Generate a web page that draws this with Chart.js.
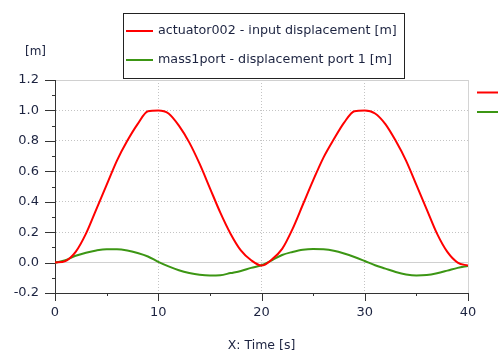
<!DOCTYPE html>
<html>
<head>
<meta charset="utf-8">
<script src="https://cdn.jsdelivr.net/npm/chart.js@4.4.1/dist/chart.umd.min.js"></script>
<style>
  html, body { margin: 0; padding: 0; background: #fff; }
  #wrap { width: 498px; height: 351px; position: relative; }
</style>
</head>
<body>
<div id="wrap"><canvas id="myChart" width="498" height="351"></canvas></div>
<script>
// time axis [s]
const times = [0, 1, 2, 3, 4, 5, 6, 7, 8, 9, 10, 11, 12, 13, 14, 15, 16, 17, 18, 19, 20,
    21, 22, 23, 24, 25, 26, 27, 28, 29, 30, 31, 32, 33, 34, 35, 36, 37, 38, 39, 40];

// actuator002 - input displacement [m]
const actuatorDisp = [0, 0.01, 0.07, 0.19, 0.35, 0.51, 0.67, 0.8, 0.91, 0.995, 1.0, 0.98, 0.9, 0.79, 0.65, 0.49, 0.33, 0.19, 0.08, 0.015, -0.02,
    0.02, 0.09, 0.22, 0.38, 0.54, 0.69, 0.81, 0.92, 0.995, 1.0, 0.98, 0.91, 0.8, 0.67, 0.51, 0.35, 0.19, 0.07, 0.0, -0.02];

// mass1port - displacement port 1 [m]
const massDisp = [0, 0.015, 0.045, 0.065, 0.08, 0.088, 0.088, 0.08, 0.063, 0.04, 0.005, -0.025, -0.05, -0.068, -0.08, -0.085, -0.083, -0.069, -0.055, -0.035, -0.018,
    0.015, 0.05, 0.07, 0.085, 0.09, 0.088, 0.078, 0.06, 0.037, 0.01, -0.018, -0.04, -0.062, -0.078, -0.085, -0.082, -0.07, -0.053, -0.035, -0.022];

const seriesLabels = ['actuator002 - input displacement [m]', 'mass1port - displacement port 1 [m]'];
const seriesColors = ['#ff0000', '#3c9614'];
const yUnit = '[m]';
const xTitle = 'X: Time [s]';

const textColor = '#1c2340';
const fontFamily = '"DejaVu Sans", Verdana, sans-serif';

function isMajorY(v) { return Math.abs(Math.round(v * 10)) % 2 === 0; }
function isMajorX(v) { return Math.round(v) % 10 === 0; }

// tick marks, boxed legend, unit label
const decorations = {
    id: 'decorations',
    afterDraw(chart) {
        const c = chart.ctx;
        const area = chart.chartArea;
        const xs = chart.scales.x;
        const ys = chart.scales.y;
        c.save();
        c.strokeStyle = '#333';
        c.lineWidth = 1;
        c.beginPath();
        xs.ticks.forEach(t => {
            const px = Math.round(xs.getPixelForValue(t.value)) + 0.5;
            const len = isMajorX(t.value) ? 8 : 3;
            c.moveTo(px, area.bottom);
            c.lineTo(px, area.bottom + len);
        });
        ys.ticks.forEach(t => {
            const py = Math.round(ys.getPixelForValue(t.value)) + 0.5;
            const len = isMajorY(t.value) ? 10 : 3;
            c.moveTo(area.left, py);
            c.lineTo(area.left - len, py);
        });
        c.stroke();

        // unit
        c.font = '12px ' + fontFamily;
        c.fillStyle = textColor;
        c.textBaseline = 'middle';
        c.textAlign = 'left';
        c.fillText(yUnit, 25, 52);

        // boxed legend
        c.fillStyle = '#fff';
        c.fillRect(123.5, 13.5, 281, 65);
        c.strokeStyle = '#222';
        c.strokeRect(123.5, 13.5, 281, 65);
        c.font = '12.7px ' + fontFamily;
        chart.data.datasets.forEach((ds, i) => {
            const y = 31 + i * 29;
            c.strokeStyle = ds.borderColor;
            c.lineWidth = 2;
            c.beginPath();
            c.moveTo(126, y);
            c.lineTo(153, y);
            c.stroke();
            c.fillStyle = textColor;
            c.fillText(ds.label, 158, y);
            // cut-off legend on the right edge
            c.beginPath();
            c.moveTo(477, 92.5 + i * 19.5);
            c.lineTo(498, 92.5 + i * 19.5);
            c.stroke();
        });
        c.restore();
    }
};

const ctx = document.getElementById('myChart');
const chart = new Chart(ctx, {
    type: 'line',
    data: {
        datasets: [{
            label: seriesLabels[0],
            data: times.map((t, i) => ({x: t, y: actuatorDisp[i]})),
            borderColor: seriesColors[0],
            borderWidth: 2,
            pointRadius: 0,
            cubicInterpolationMode: 'monotone'
        }, {
            label: seriesLabels[1],
            data: times.map((t, i) => ({x: t, y: massDisp[i]})),
            borderColor: seriesColors[1],
            borderWidth: 2,
            pointRadius: 0,
            cubicInterpolationMode: 'monotone'
        }]
    },
    options: {
        responsive: false,
        animation: false,
        layout: { padding: { top: 80, right: 30, left: 0, bottom: -2 } },
        plugins: {
            legend: { display: false },
            tooltip: { enabled: false }
        },
        scales: {
            x: {
                type: 'linear',
                min: 0,
                max: 40,
                afterFit: s => { s.height = 60; },
                ticks: {
                    stepSize: 5,
                    padding: 12,
                    maxRotation: 0,
                    autoSkip: false,
                    color: textColor,
                    font: { family: fontFamily, size: 13 },
                    callback: v => isMajorX(v) ? String(v) : ''
                },
                grid: {
                    drawTicks: false,
                    lineWidth: 1,
                    color: c => {
                        const v = c.tick.value;
                        if (v === 40) return '#d4d4d4';
                        return isMajorX(v) ? '#c4c4c4' : 'rgba(0,0,0,0)';
                    }
                },
                border: {
                    display: true,
                    color: '#333',
                    width: 1,
                    dash: c => (c.tick && c.tick.value === 40) ? [] : [1, 2]
                },
                title: {
                    display: true,
                    text: xTitle,
                    color: textColor,
                    font: { family: fontFamily, size: 12.5 },
                    padding: { top: 0, bottom: 0 }
                }
            },
            y: {
                min: -0.2,
                max: 1.2,
                afterFit: s => { s.width = 55; },
                ticks: {
                    stepSize: 0.1,
                    padding: 16,
                    autoSkip: false,
                    color: textColor,
                    font: { family: fontFamily, size: 13 },
                    callback: v => {
                        if (!isMajorY(v)) return '';
                        const r = Math.round(v * 10) / 10;
                        return r === 0 ? '0.0' : r.toFixed(1);
                    }
                },
                grid: {
                    drawTicks: false,
                    lineWidth: 1,
                    color: c => {
                        const v = c.tick.value;
                        if (Math.abs(v) < 1e-9 || Math.abs(v - 1.2) < 1e-9) return '#d0d0d0';
                        return isMajorY(v) ? '#c4c4c4' : 'rgba(0,0,0,0)';
                    }
                },
                border: {
                    display: true,
                    color: '#333',
                    width: 1,
                    dash: c => {
                        if (!c.tick) return [1, 2];
                        const v = c.tick.value;
                        return (Math.abs(v) < 1e-9 || Math.abs(v - 1.2) < 1e-9) ? [] : [1, 2];
                    }
                }
            }
        }
    },
    plugins: [decorations]
});
</script>
</body>
</html>
